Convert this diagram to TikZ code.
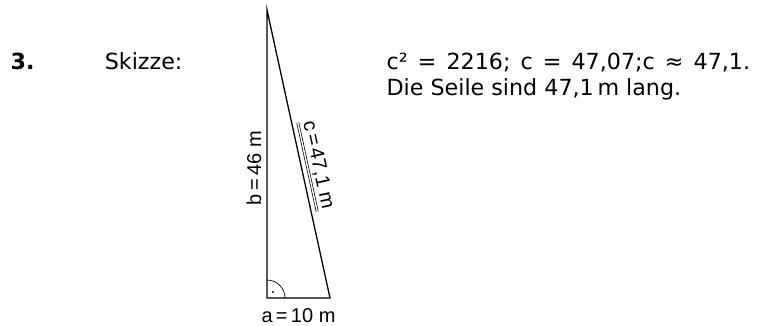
\documentclass[tikz,border=0pt]{standalone}
\usepackage{fontspec}
\setmainfont{DejaVu Sans}
\newfontfamily\labelfont{Liberation Sans}
\usetikzlibrary{calc}
\usetikzlibrary{positioning}
\tikzset{
    bigtext/.style={font=\fontsize{22.2pt}{26pt}\selectfont},
    boldtext/.style={font=\fontsize{22.2pt}{26pt}\selectfont\bfseries},
    widespaced/.style={execute at begin node={\spaceskip=10.1pt\relax}},
    sidelabel/.style={font=\labelfont\fontsize{20pt}{22pt}\selectfont},
    thinline/.style={line width=0.7pt}
}

\begin{document}
\begin{tikzpicture}[x=1pt, y=-1pt, inner sep=0.0 pt, line width=1.3pt]
    \pgfmathsetmacro{\arcRadius}{18}
    \pgfmathsetmacro{\dotShift}{6}

    \useasboundingbox (0,0) rectangle (758,325);

    % triangle corners
    \coordinate (top) at (267,10);
    \coordinate (corner) at (267,298);
    \coordinate (foot) at (330,298);

    \node (num) [boldtext, anchor=base west] at (10,69) {3.};
    \node (sketch) [bigtext, base right=69pt of num] {Skizze:};
    \node (calc) [bigtext, widespaced, anchor=base west] at (386,69) {c² = 2216; c = 47,07;c ≈ 47,1.};
    \node (answer) [bigtext, anchor=base west] at (386,95) {Die Seile sind 47,1\,m lang.};

    \draw (top) -- (corner) -- (foot) -- cycle;

    % right angle
    \draw [thinline] (corner) ++(0,-\arcRadius) arc[start angle=-90, end angle=0, radius=\arcRadius];
    \fill (corner) ++(\dotShift,-\dotShift) circle (1.1pt);

    % side labels
    \path (corner) -- (foot) coordinate[midway] (bottommid);
    \node (alabel) [sidelabel, below=9.5pt of bottommid] {a\,=\,10 m};
    \node (blabel) [sidelabel, rotate=90] at ($(top)!0.549!(corner)+(-13,0)$) {b\,=\,46 m};
    \path (top) -- (foot) node (clabel) [sidelabel, pos=0.55, sloped, above=6pt, inner ysep=2.2pt] {c\,=\,47,1 m};
    \draw [thinline, double, double distance=1.4pt] (clabel.south west) -- (clabel.south east);
\end{tikzpicture}
\end{document}
